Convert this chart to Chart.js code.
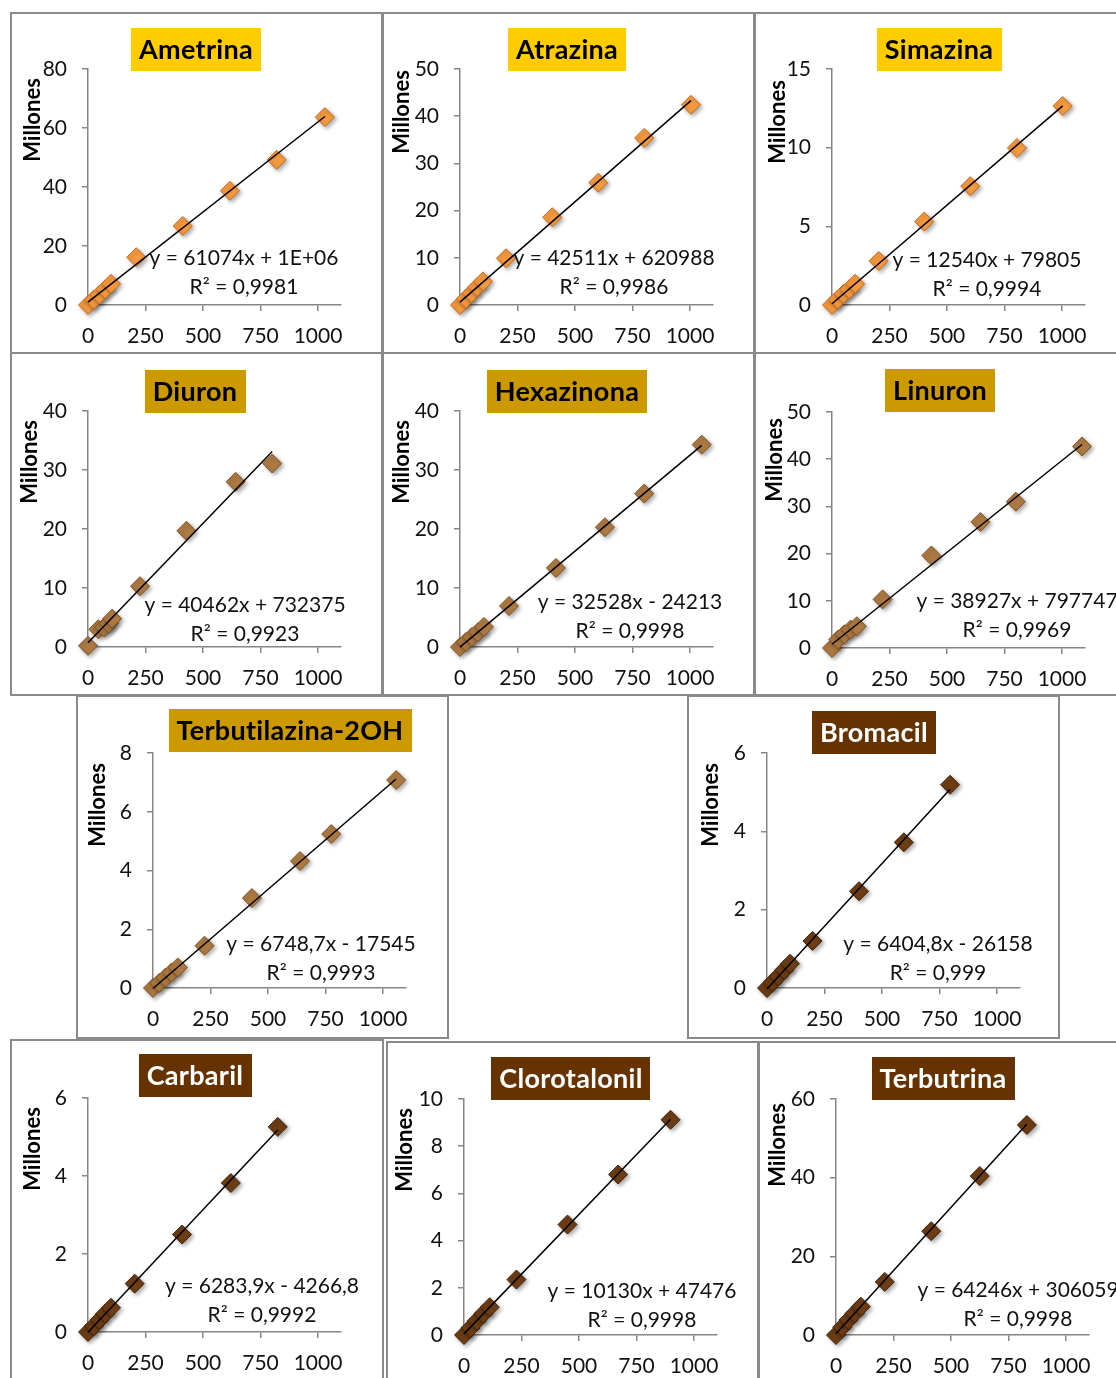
<!DOCTYPE html>
<html><head><meta charset="utf-8">
<script src="https://cdn.jsdelivr.net/npm/chart.js@4.4.0/dist/chart.umd.min.js"></script>
<style>
html,body{margin:0;padding:0;background:#fff;}
body{width:1116px;height:1378px;overflow:hidden;position:relative;}
.panel{position:absolute;box-sizing:border-box;border:2px solid #8a8a8a;background:#fff;}
canvas.c{position:absolute;}
</style></head><body>
<script>
// ---------------- DATA ----------------
const names = ['Ametrina','Atrazina','Simazina','Diuron','Hexazinona','Linuron','Terbutilazina-2OH','Bromacil','Carbaril','Clorotalonil','Terbutrina'];
const xTickLabels = [0, 250, 500, 750, 1000];
const xMax = 1100;

const ametrinaX = [0, 25, 50, 75, 100, 210, 412, 617, 820, 1030];
const ametrinaY = [0, 1.8, 3.5, 5.3, 7.2, 16.2, 26.8, 38.7, 49.2, 63.7];
const atrazinaX = [0, 25, 50, 75, 100, 200, 401, 601, 801, 1004];
const atrazinaY = [0, 1.3, 2.5, 3.8, 5.0, 9.9, 18.6, 25.9, 35.4, 42.4];
const simazinaX = [0, 25, 50, 75, 100, 203, 401, 601, 804, 1003];
const simazinaY = [0, 0.35, 0.7, 1.0, 1.35, 2.8, 5.3, 7.55, 9.98, 12.65];
const diuronX = [0, 45, 70, 90, 105, 226, 428, 642, 801];
const diuronY = [0.2, 3.0, 3.3, 4.0, 4.8, 10.3, 19.7, 28.0, 31.1];
const hexazinonaX = [0, 26, 52, 78, 104, 213, 417, 630, 801, 1051];
const hexazinonaY = [0, 0.85, 1.7, 2.5, 3.4, 6.95, 13.4, 20.3, 26.0, 34.3];
const linuronX = [0, 27, 54, 81, 108, 220, 432, 645, 799, 1087];
const linuronY = [0, 1.8, 2.9, 3.9, 4.6, 10.3, 19.6, 26.7, 31.0, 42.7];
const terbutilazinaX = [0, 27, 54, 81, 108, 224, 430, 639, 775, 1057];
const terbutilazinaY = [0, 0.17, 0.35, 0.53, 0.70, 1.44, 3.06, 4.32, 5.24, 7.08];
const bromacilX = [0, 25, 50, 75, 100, 198, 400, 595, 796];
const bromacilY = [0, 0.15, 0.3, 0.46, 0.62, 1.2, 2.47, 3.72, 5.19];
const carbarilX = [0, 25, 50, 75, 100, 203, 409, 621, 825];
const carbarilY = [0, 0.15, 0.31, 0.47, 0.62, 1.24, 2.5, 3.82, 5.26];
const clorotalonilX = [0, 28, 56, 84, 112, 228, 450, 670, 898];
const clorotalonilY = [0, 0.3, 0.6, 0.9, 1.18, 2.35, 4.68, 6.8, 9.12];
const terbutrinaX = [0, 27, 54, 81, 108, 212, 414, 625, 830];
const terbutrinaY = [0, 2.0, 3.8, 5.5, 7.2, 13.5, 26.4, 40.4, 53.4];

const seriesX = [ametrinaX, atrazinaX, simazinaX, diuronX, hexazinonaX, linuronX, terbutilazinaX, bromacilX, carbarilX, clorotalonilX, terbutrinaX];
const seriesY = [ametrinaY, atrazinaY, simazinaY, diuronY, hexazinonaY, linuronY, terbutilazinaY, bromacilY, carbarilY, clorotalonilY, terbutrinaY];

const yTickLabels = [[0,20,40,60,80],[0,10,20,30,40,50],[0,5,10,15],[0,10,20,30,40],[0,10,20,30,40],[0,10,20,30,40,50],[0,2,4,6,8],[0,2,4,6],[0,2,4,6],[0,2,4,6,8,10],[0,20,40,60]];

const slopes = [61074, 42511, 12540, 40462, 32528, 38927, 6748.7, 6404.8, 6283.9, 10130, 64246];
const intercepts = [1e6, 620988, 79805, 732375, -24213, 797747, -17545, -26158, -4266.8, 47476, 306059];
const equations = ['y = 61074x + 1E+06','y = 42511x + 620988','y = 12540x + 79805','y = 40462x + 732375','y = 32528x - 24213','y = 38927x + 797747','y = 6748,7x - 17545','y = 6404,8x - 26158','y = 6283,9x - 4266,8','y = 10130x + 47476','y = 64246x + 306059'];
const r2 = ['R² = 0,9981','R² = 0,9986','R² = 0,9994','R² = 0,9923','R² = 0,9998','R² = 0,9969','R² = 0,9993','R² = 0,999','R² = 0,9992','R² = 0,9998','R² = 0,9998'];
const yAxisTitle = 'Millones';

// ---------------- LAYOUT / STYLE ----------------
// panel: [left, top, width, height]; axis: [yAxisX, chartTop, chartBottom]
const panels = [[10,12,373,342],[382,12,373,342],[754,12,373,342],[10,352,373,344],[382,352,373,344],[754,352,373,344],[76,695,373,344],[687,695,373,344],[10,1039,374,345],[386,1041,373,345],[758,1041,373,345]];
const axes = [[88,69,305],[460,69,305],[832,69,305],[88,411,647],[460,411,647],[832,412,648],[153,753,988],[767,753,988],[88,1098,1332],[464,1099,1335],[836,1099,1335]];
const titlePos = [[196,28],[567,28],[939,28],[195,370],[567,370],[940,369],[290,709],[874,711],[195,1054],[571,1057],[943,1057]];
const yTitlePos = [[33,120],[402,112],[778,122],[30,462],[402,462],[775,460],[98,805],[711,805],[33,1149],[405,1150],[778,1145]];
const eqPos = [[156,189],[154,189],[155,191],[157,194],[170,191],[185,189],[168,191],[171,191],[174,188],[178,192],[182,191]];
const theme = {
  gold:  {box:'#FFCC00', text:'#000000', fill:'#F59A3E', edge:'#C8691E'},
  ochre: {box:'#CC9900', text:'#000000', fill:'#AE7A42', edge:'#7E5226'},
  brown: {box:'#663300', text:'#FFFFFF', fill:'#6E3D14', edge:'#42240A'}
};
const panelTheme = ['gold','gold','gold','ochre','ochre','ochre','ochre','brown','brown','brown','brown'];
const FONT = 'Lato';
const PX_PER_1100 = 253;

// ---------------- DRAW ----------------
const decor = {
  id: 'decor',
  beforeDatasetDraw(chart, args) {
    if (args.index === 1) {
      const ctx = chart.ctx;
      ctx.save();
      ctx.shadowColor = 'rgba(0,0,0,0.35)';
      ctx.shadowBlur = 4;
      ctx.shadowOffsetX = 2;
      ctx.shadowOffsetY = 2;
    }
  },
  afterDatasetDraw(chart, args) {
    if (args.index === 1) chart.ctx.restore();
  },
  afterDraw(chart) {
    const o = chart.options.plugins.decor;
    const ctx = chart.ctx;
    const [pl, pt] = o.panel;
    const th = theme[o.theme];
    ctx.save();
    // title box
    ctx.font = 'bold 27px ' + FONT;
    if ('letterSpacing' in ctx) ctx.letterSpacing = '0.3px';
    const tw = ctx.measureText(o.title).width;
    const bw = tw + 16, bh = 43;
    const cx = o.titlePos[0] - pl, ty = o.titlePos[1] - pt;
    ctx.fillStyle = th.box;
    ctx.fillRect(Math.round(cx - bw/2), ty, Math.round(bw), bh);
    ctx.fillStyle = th.text;
    ctx.textAlign = 'center';
    ctx.textBaseline = 'middle';
    ctx.fillText(o.title, cx, ty + bh/2 + 1);
    if ('letterSpacing' in ctx) ctx.letterSpacing = '0px';
    // y axis title
    ctx.save();
    ctx.translate(o.yTitlePos[0] - pl, o.yTitlePos[1] - pt);
    ctx.rotate(-Math.PI/2);
    ctx.font = 'bold 22px ' + FONT;
    ctx.fillStyle = '#000';
    ctx.fillText(yAxisTitle, 0, 0);
    ctx.restore();
    // trendline equation
    const ca = chart.chartArea;
    ctx.font = '21px ' + FONT;
    ctx.fillStyle = '#111';
    const ex = ca.left + o.eqPos[0], ey = ca.top + o.eqPos[1];
    ctx.fillText(o.eq, ex, ey);
    ctx.fillText(o.r2, ex, ey + 29);
    ctx.restore();
  }
};

names.forEach((name, i) => {
  const [pl, pt, pw, ph] = panels[i];
  const div = document.createElement('div');
  div.className = 'panel';
  Object.assign(div.style, {left: pl+'px', top: pt+'px', width: pw+'px', height: ph+'px'});
  document.body.appendChild(div);
});

names.forEach((name, i) => {
  const [pl, pt, pw, ph] = panels[i];
  const [ax, ctop, cbot] = axes[i];
  const cv = document.createElement('canvas');
  cv.className = 'c';
  cv.width = pw; cv.height = ph;
  Object.assign(cv.style, {left: pl+'px', top: pt+'px', width: pw+'px', height: ph+'px'});
  document.body.appendChild(cv);

  const th = theme[panelTheme[i]];
  const xs = seriesX[i], ys = seriesY[i];
  const pts = xs.map((x, k) => ({x, y: ys[k]}));
  const xEnd = Math.max(...xs);
  const trend = [{x: 0, y: intercepts[i] / 1e6}, {x: xEnd, y: (slopes[i] * xEnd + intercepts[i]) / 1e6}];
  const yT = yTickLabels[i];
  const yW = ax - pl;
  const xH = ph - (cbot - pt);
  const axisCol = '#868686';

  new Chart(cv, {
    type: 'scatter',
    data: {
      datasets: [
        {data: trend, showLine: true, borderColor: '#000', borderWidth: 1.5, pointRadius: 0, clip: false},
        {data: pts, pointStyle: 'rectRot', pointRadius: 9.5, backgroundColor: th.fill, borderColor: th.edge, borderWidth: 1, clip: false}
      ]
    },
    options: {
      responsive: false, animation: false, devicePixelRatio: 1,
      layout: {padding: {left: 0, top: ctop - pt, right: pw - yW - PX_PER_1100, bottom: 0}},
      plugins: {
        legend: {display: false}, tooltip: {enabled: false},
        decor: {panel: [pl, pt], theme: panelTheme[i], title: name, titlePos: titlePos[i], yTitlePos: yTitlePos[i], eqPos: eqPos[i], eq: equations[i], r2: r2[i]}
      },
      scales: {
        x: {
          type: 'linear', min: 0, max: xMax,
          afterBuildTicks: s => { s.ticks = xTickLabels.map(v => ({value: v})); },
          afterFit: s => { s.height = xH; },
          border: {display: true, color: axisCol, width: 1.5},
          grid: {display: true, drawOnChartArea: false, drawTicks: true, tickLength: 6, color: axisCol, lineWidth: 1.5},
          ticks: {font: {family: FONT, size: 21}, color: '#111', padding: 13, maxRotation: 0, autoSkip: false, callback: v => String(v)}
        },
        y: {
          type: 'linear', min: 0, max: yT[yT.length - 1],
          afterBuildTicks: s => { s.ticks = yT.map(v => ({value: v})); },
          afterFit: s => { s.width = yW; },
          border: {display: true, color: axisCol, width: 1.5},
          grid: {display: true, drawOnChartArea: false, drawTicks: true, tickLength: 6, color: axisCol, lineWidth: 1.5},
          ticks: {font: {family: FONT, size: 21}, color: '#111', padding: 15, autoSkip: false, callback: v => String(v)}
        }
      }
    },
    plugins: [decor]
  });
});
</script>
</body></html>
